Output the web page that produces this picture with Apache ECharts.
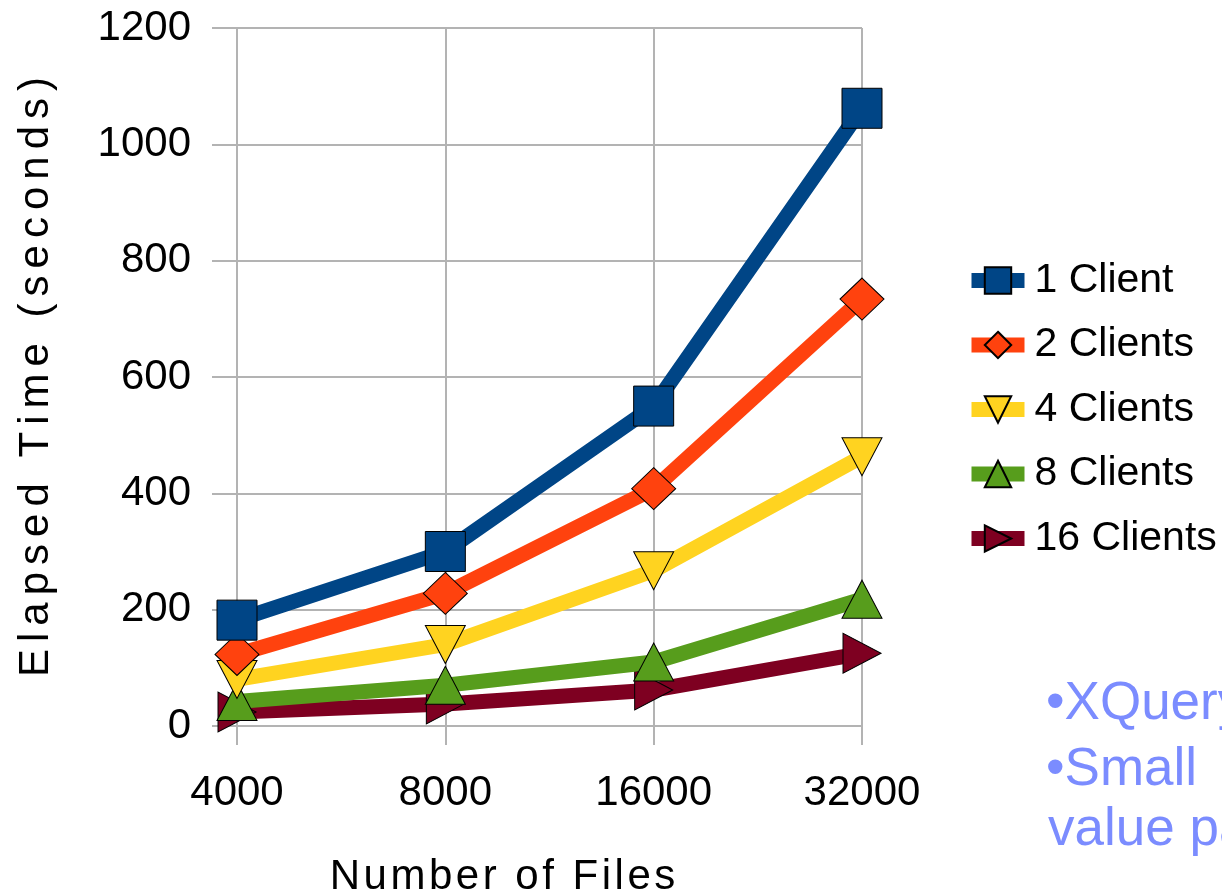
<!DOCTYPE html>
<html>
<head>
<meta charset="utf-8">
<script src="https://cdn.jsdelivr.net/npm/echarts@6/dist/echarts.min.js"></script>
<style>
  html, body { margin: 0; padding: 0; background: #fff; }
  #chart { width: 1222px; height: 894px; }
</style>
</head>
<body>
<div id="chart"></div>
<script>
// Elapsed time per number of files, one line per client count
const fileCounts = ['4000', '8000', '16000', '32000'];
const yTicks = [0, 200, 400, 600, 800, 1000, 1200];

const seriesNames = ['1 Client', '2 Clients', '4 Clients', '8 Clients', '16 Clients'];
const oneClient = [182, 300, 550, 1062];
const twoClients = [123, 228, 408, 734];
const fourClients = [80, 140, 267, 463];
const eightClients = [42, 70, 110, 218];
const sixteenClients = [24, 38, 62, 125];

const seriesColors = ['#004586', '#ff420e', '#ffd320', '#579d1c', '#7e0021'];
const seriesValues = [oneClient, twoClients, fourClients, eightClients, sixteenClients];
const seriesSymbols = [
  { symbol: 'rect', size: 40, rotate: 0 },
  { symbol: 'diamond', size: [44, 42], rotate: 0 },
  { symbol: 'triangle', size: [40, 38], rotate: 180 },
  { symbol: 'triangle', size: [40, 38], rotate: 0 },
  { symbol: 'triangle', size: [40, 38], rotate: -90 }
];

const FONT = '"Liberation Sans", Arial, sans-serif';
const TEXT_COLOR = '#7b8cff';

// Widen a title by putting hair spaces between its letters
function tracked(text, fontPx, extraPx) {
  const ctx = document.createElement('canvas').getContext('2d');
  ctx.font = fontPx + 'px ' + FONT;
  const hair = ctx.measureText('\u200A').width || 1;
  const n = Math.max(1, Math.round(extraPx / hair));
  return Array.from(text).join('\u200A'.repeat(n));
}

const chart = echarts.init(document.getElementById('chart'), null, { renderer: 'canvas' });

const series = seriesNames.map((name, i) => ({
  name: name,
  type: 'line',
  data: seriesValues[i],
  symbol: seriesSymbols[i].symbol,
  symbolSize: seriesSymbols[i].size,
  symbolRotate: seriesSymbols[i].rotate,
  showAllSymbol: true,
  lineStyle: { color: seriesColors[i], width: 15, cap: 'butt', join: 'miter' },
  itemStyle: { color: seriesColors[i], borderColor: '#000', borderWidth: 1 },
  emphasis: { disabled: true },
  animation: false,
  z: 10 - i
}));

chart.setOption({
  animation: false,
  grid: { left: 237, right: 360, top: 28, bottom: 168, containLabel: false, outerBoundsMode: 'none' },
  xAxis: {
    type: 'category',
    data: fileCounts,
    boundaryGap: false,
    name: tracked('Number of Files', 42, 5),
    nameLocation: 'middle',
    nameGap: 130,
    nameTextStyle: { fontFamily: FONT, fontSize: 42, color: '#000', padding: [0, 94, 0, 0] },
    axisLine: { show: false },
    axisTick: { show: true, length: 19, lineStyle: { color: '#b3b3b3', width: 2 } },
    axisLabel: { fontFamily: FONT, fontSize: 42, color: '#000', margin: 46 },
    splitLine: { show: true, lineStyle: { color: '#b3b3b3', width: 2 } }
  },
  yAxis: {
    type: 'value',
    min: yTicks[0],
    max: yTicks[yTicks.length - 1],
    interval: yTicks[1] - yTicks[0],
    name: tracked('Elapsed Time (seconds)', 42, 7),
    nameLocation: 'middle',
    nameGap: 180,
    nameRotate: 90,
    nameTextStyle: { fontFamily: FONT, fontSize: 42, color: '#000' },
    axisLine: { show: true, lineStyle: { color: '#b3b3b3', width: 2 } },
    axisTick: { show: true, length: 25, lineStyle: { color: '#b3b3b3', width: 2 } },
    axisLabel: { fontFamily: FONT, fontSize: 42, color: '#000', margin: 46, formatter: v => String(v) },
    splitLine: { show: true, lineStyle: { color: '#b3b3b3', width: 2 } }
  },
  legend: {
    orient: 'vertical',
    left: 964,
    top: 260,
    padding: 0,
    itemWidth: 53,
    itemHeight: 33,
    itemGap: 23.5,
    data: seriesNames,
    lineStyle: { width: 15 },
    textStyle: { fontFamily: FONT, fontSize: 41, color: '#000', padding: [0, 0, 0, 5] },
    selectedMode: false
  },
  graphic: [
    {
      type: 'group',
      left: 1046,
      top: 678,
      silent: true,
      children: [
        { type: 'text', x: 0, y: 0, style: { text: '\u2022XQuery', font: '53px ' + FONT, fill: TEXT_COLOR } },
        { type: 'text', x: 0, y: 66, style: { text: '\u2022Small', font: '53px ' + FONT, fill: TEXT_COLOR } },
        { type: 'text', x: 2, y: 126, style: { text: 'value pairs', font: '53px ' + FONT, fill: TEXT_COLOR } }
      ]
    }
  ],
  series: series
});
</script>
</body>
</html>
